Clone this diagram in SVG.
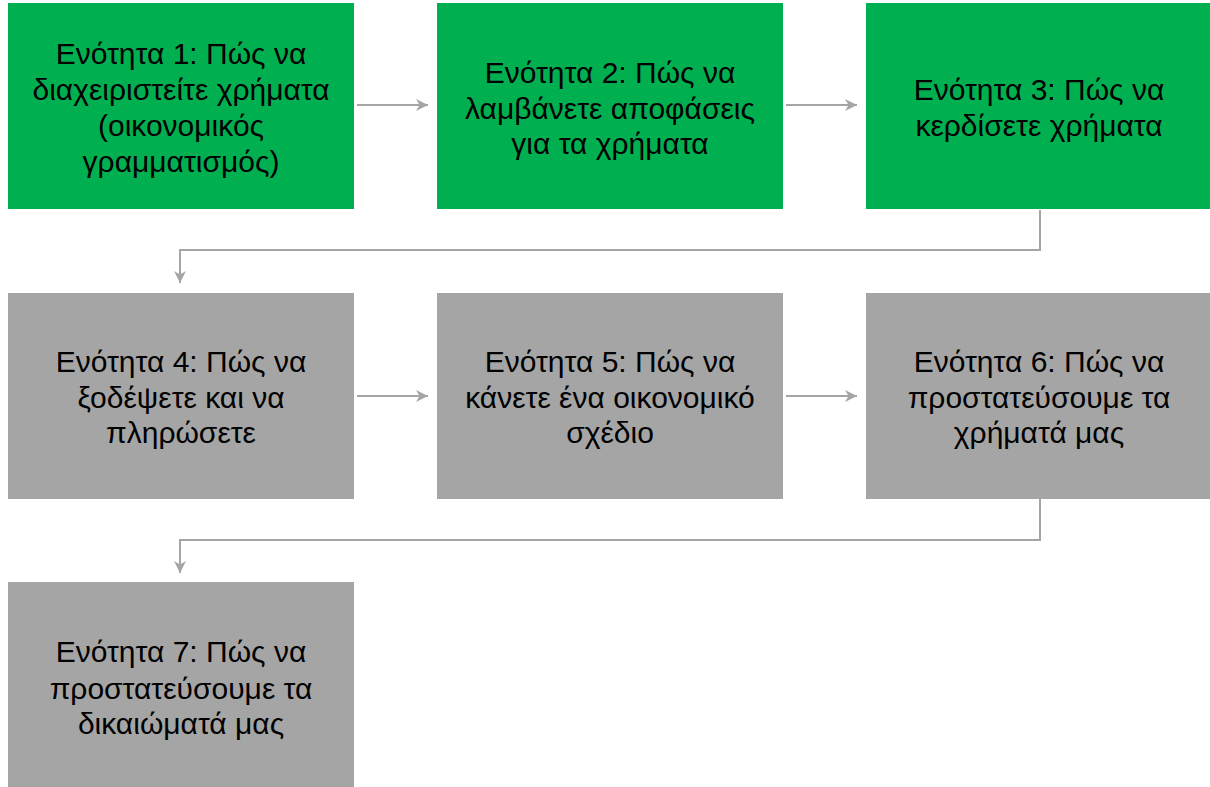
<svg xmlns="http://www.w3.org/2000/svg" width="1210" height="787" viewBox="0 0 1210 787">
<defs>
<style>
.g{fill:#00B050}
.s{fill:#A5A5A5}
text{font-family:"Liberation Sans","Noto Sans",sans-serif;font-size:30px;fill:#000;text-anchor:middle}
.c{fill:none;stroke:#A5A5A5;stroke-width:2}
</style>
<marker id="ah" viewBox="0 0 10 10" refX="10" refY="5" markerWidth="6" markerHeight="6" markerUnits="strokeWidth" orient="auto">
<path d="M0,0 L10,5 L0,10 L3,5 Z" fill="#A5A5A5"/>
</marker>
</defs>
<rect width="1210" height="787" fill="#fff"/>
<g id="connectors">
<line class="c" x1="357" y1="105" x2="428" y2="105" marker-end="url(#ah)"/>
<line class="c" x1="786" y1="105" x2="857" y2="105" marker-end="url(#ah)"/>
<polyline class="c" points="1040,210 1040,250 180,250 180,283" marker-end="url(#ah)"/>
<line class="c" x1="357" y1="396" x2="428" y2="396" marker-end="url(#ah)"/>
<line class="c" x1="786" y1="396" x2="857" y2="396" marker-end="url(#ah)"/>
<polyline class="c" points="1040,499 1040,540 180,540 180,573" marker-end="url(#ah)"/>
</g>
<g id="n1"><rect class="g" x="8" y="3" width="346" height="206"/>
<text x="181" y="64">Ενότητα 1: Πώς να</text><text x="181" y="100">διαχειριστείτε χρήματα</text><text x="181" y="136">(οικονομικός</text><text x="181" y="172">γραμματισμός)</text></g>
<g id="n2"><rect class="g" x="437" y="3" width="346" height="206"/>
<text x="610" y="83">Ενότητα 2: Πώς να</text><text x="610" y="119">λαμβάνετε αποφάσεις</text><text x="610" y="154">για τα χρήματα</text></g>
<g id="n3"><rect class="g" x="866" y="3" width="346" height="206"/>
<text x="1039" y="100">Ενότητα 3: Πώς να</text><text x="1039" y="136">κερδίσετε χρήματα</text></g>
<g id="n4"><rect class="s" x="8" y="293" width="346" height="206"/>
<text x="181" y="372">Ενότητα 4: Πώς να</text><text x="181" y="408">ξοδέψετε και να</text><text x="181" y="443">πληρώσετε</text></g>
<g id="n5"><rect class="s" x="437" y="293" width="346" height="206"/>
<text x="610" y="372">Ενότητα 5: Πώς να</text><text x="610" y="408">κάνετε ένα οικονομικό</text><text x="610" y="443">σχέδιο</text></g>
<g id="n6"><rect class="s" x="866" y="293" width="346" height="206"/>
<text x="1039" y="372">Ενότητα 6: Πώς να</text><text x="1039" y="408">προστατεύσουμε τα</text><text x="1039" y="443">χρήματά μας</text></g>
<g id="n7"><rect class="s" x="8" y="582" width="346" height="205"/>
<text x="181" y="662">Ενότητα 7: Πώς να</text><text x="181" y="699">προστατεύσουμε τα</text><text x="181" y="734">δικαιώματά μας</text></g>
</svg>
